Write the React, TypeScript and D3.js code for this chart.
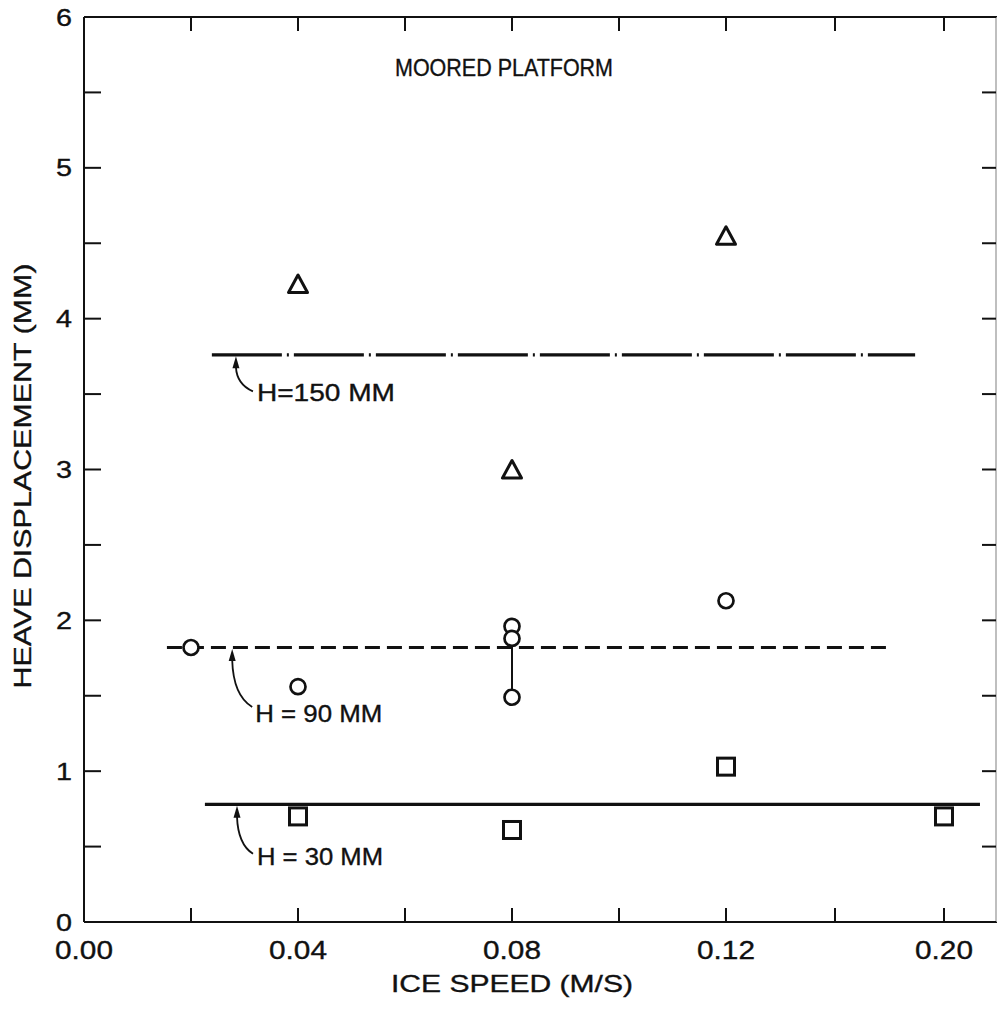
import React from "react";
import * as d3 from "d3";

// ---------- data ----------
const xTickValues = [0, 0.04, 0.08, 0.12, 0.2];
const xTickLabels = ["0.00", "0.04", "0.08", "0.12", "0.20"];
const xMinorTicks = [0.02, 0.06, 0.1, 0.16];
const yTickValues = [0, 1, 2, 3, 4, 5, 6];
const yHalfTicks = [0, 0.5, 1, 1.5, 2, 2.5, 3, 3.5, 4, 4.5, 5, 5.5, 6];

const triangleSpeeds = [0.04, 0.08, 0.12];
const triangleValues = [4.23, 3.0, 4.55];

const circleSpeeds = [0.02, 0.04, 0.08, 0.08, 0.08, 0.12];
const circleValues = [1.82, 1.56, 1.96, 1.88, 1.49, 2.13];

const squareSpeeds = [0.04, 0.08, 0.12, 0.2];
const squareValues = [0.7, 0.61, 1.03, 0.7];

// vertical range bar at 0.08
const rangeSpeed = 0.08;
const rangeLow = 1.49;
const rangeHigh = 1.88;

// reference lines (H = hull depth)
const refLabels = ["H=150 MM", "H = 90 MM", "H = 30 MM"];
const refValues = [3.76, 1.82, 0.78];
const refStart = [0.0239, 0.0155, 0.0226];
const refEnd = [0.1894, 0.1802, 0.2132];
const refArrowAt = [0.0284, 0.0277, 0.0286];

// ---------- layout / style ----------
const W = 997;
const H = 1009;
const left = 84;
const right = 996;
const top = 17;
const bottom = 922;
const refDash = ["70 5 2 5", "15 7", "none"];
// annotation curve/label offsets relative to arrow tip
const annot = [
  { cx: 17, cy: 35, lx: 21, ly: 45, len: 138 },
  { cx: 20, cy: 58, lx: 23, ly: 73, len: 127 },
  { cx: 16, cy: 48, lx: 20, ly: 59, len: 126 },
];
const FONT = "'Liberation Sans', Arial, sans-serif";
const INK = "#111";
const textStroke = { stroke: INK, strokeWidth: 0.35 };

export default function App() {
  const x = d3.scaleLinear().domain([0, 0.12, 0.2]).range([left, 726, 944]);
  const y = d3.scaleLinear().domain([0, 6]).range([bottom, top]);

  const allXTicks = [...xTickValues.slice(1), ...xMinorTicks];

  const trianglePath = (cx: number, cy: number) =>
    `M${cx},${cy - 9} L${cx - 9.5},${cy + 8.5} L${cx + 9.5},${cy + 8.5} Z`;

  const lineGen = d3.line<[number, number]>().x((d) => x(d[0])).y((d) => y(d[1]));

  return (
    <svg
      width={W}
      height={H}
      style={{ position: "absolute", left: 0, top: 0, background: "#fff" }}
      fontFamily={FONT}
    >
      <rect x={0} y={0} width={W} height={H} fill="#fff" />

      {/* frame */}
      <line x1={left} y1={top} x2={left} y2={bottom} stroke={INK} strokeWidth={2} />
      <line x1={left} y1={bottom} x2={right + 1} y2={bottom} stroke={INK} strokeWidth={2} />
      <line x1={left} y1={top} x2={right + 1} y2={top} stroke={INK} strokeWidth={2} />
      <line x1={right} y1={top} x2={right} y2={bottom} stroke="#aaa" strokeWidth={1.5} />

      {/* x ticks bottom & top */}
      {allXTicks.map((t, i) => (
        <g key={"xt" + i}>
          <line x1={x(t)} x2={x(t)} y1={bottom} y2={bottom - 14} stroke={INK} strokeWidth={2} />
          <line x1={x(t)} x2={x(t)} y1={top} y2={top + 14} stroke={INK} strokeWidth={2} />
        </g>
      ))}

      {/* y ticks left & right */}
      {yHalfTicks.map((t, i) => (
        <g key={"yt" + i}>
          <line x1={left} x2={left + 17} y1={y(t)} y2={y(t)} stroke={INK} strokeWidth={2} />
          <line x1={right - 14} x2={right} y1={y(t)} y2={y(t)} stroke={INK} strokeWidth={2} />
        </g>
      ))}

      {/* x tick labels */}
      {xTickValues.map((t, i) => (
        <text
          key={"xl" + i}
          x={x(t)}
          y={959}
          textAnchor="middle"
          fontSize={25}
          textLength={58}
          lengthAdjust="spacingAndGlyphs"
          fill={INK}
          {...textStroke}
        >
          {xTickLabels[i]}
        </text>
      ))}

      {/* y tick labels */}
      {yTickValues.map((t, i) => (
        <text
          key={"yl" + i}
          x={72}
          y={y(t)}
          dy="0.36em"
          textAnchor="end"
          fontSize={24}
          textLength={16}
          lengthAdjust="spacingAndGlyphs"
          fill={INK}
          {...textStroke}
        >
          {String(t)}
        </text>
      ))}

      {/* axis titles */}
      <text
        x={512}
        y={992}
        textAnchor="middle"
        fontSize={24}
        textLength={242}
        lengthAdjust="spacingAndGlyphs"
        fill={INK}
        {...textStroke}
      >
        ICE SPEED (M/S)
      </text>
      <text
        transform={`translate(31,${476}) rotate(-90)`}
        textAnchor="middle"
        fontSize={24}
        textLength={425}
        lengthAdjust="spacingAndGlyphs"
        fill={INK}
        {...textStroke}
      >
        HEAVE DISPLACEMENT (MM)
      </text>

      {/* title */}
      <text
        x={395}
        y={76}
        fontSize={24}
        textLength={218}
        lengthAdjust="spacingAndGlyphs"
        fill={INK}
        {...textStroke}
      >
        MOORED PLATFORM
      </text>

      {/* reference lines */}
      {refValues.map((v, i) => (
        <path
          key={"ref" + i}
          d={lineGen([
            [refStart[i], v],
            [refEnd[i], v],
          ]) as string}
          stroke={INK}
          strokeWidth={3.2}
          fill="none"
          strokeDasharray={refDash[i]}
        />
      ))}

      {/* annotations */}
      {refValues.map((v, i) => {
        const tx = x(refArrowAt[i]);
        const ty = y(v) + 1.5;
        const a = annot[i];
        return (
          <g key={"an" + i}>
            <path
              d={`M${tx - 3.5},${ty + 12} L${tx},${ty} L${tx + 3.5},${ty + 12} Z`}
              fill={INK}
            />
            <path
              d={`M${tx},${ty + 11} Q${tx + 1},${ty + a.cy * 0.8} ${tx + a.cx},${ty + a.cy}`}
              stroke={INK}
              strokeWidth={1.8}
              fill="none"
            />
            <text
              x={tx + a.lx}
              y={ty + a.ly}
              fontSize={24}
              textLength={a.len}
              lengthAdjust="spacingAndGlyphs"
              fill={INK}
              {...textStroke}
            >
              {refLabels[i]}
            </text>
          </g>
        );
      })}

      {/* range bar */}
      <line
        x1={x(rangeSpeed)}
        x2={x(rangeSpeed)}
        y1={y(rangeHigh)}
        y2={y(rangeLow)}
        stroke={INK}
        strokeWidth={2}
      />

      {/* triangles */}
      {triangleSpeeds.map((s, i) => (
        <path
          key={"tr" + i}
          d={trianglePath(x(s), y(triangleValues[i]))}
          fill="#fff"
          stroke={INK}
          strokeWidth={3}
          strokeLinejoin="round"
        />
      ))}

      {/* circles */}
      {circleSpeeds.map((s, i) => (
        <circle
          key={"ci" + i}
          cx={x(s)}
          cy={y(circleValues[i])}
          r={7.5}
          fill="#fff"
          stroke={INK}
          strokeWidth={2.7}
        />
      ))}

      {/* squares */}
      {squareSpeeds.map((s, i) => (
        <rect
          key={"sq" + i}
          x={x(s) - 8.5}
          y={y(squareValues[i]) - 8.5}
          width={17}
          height={17}
          fill="#fff"
          stroke={INK}
          strokeWidth={3}
        />
      ))}
    </svg>
  );
}
